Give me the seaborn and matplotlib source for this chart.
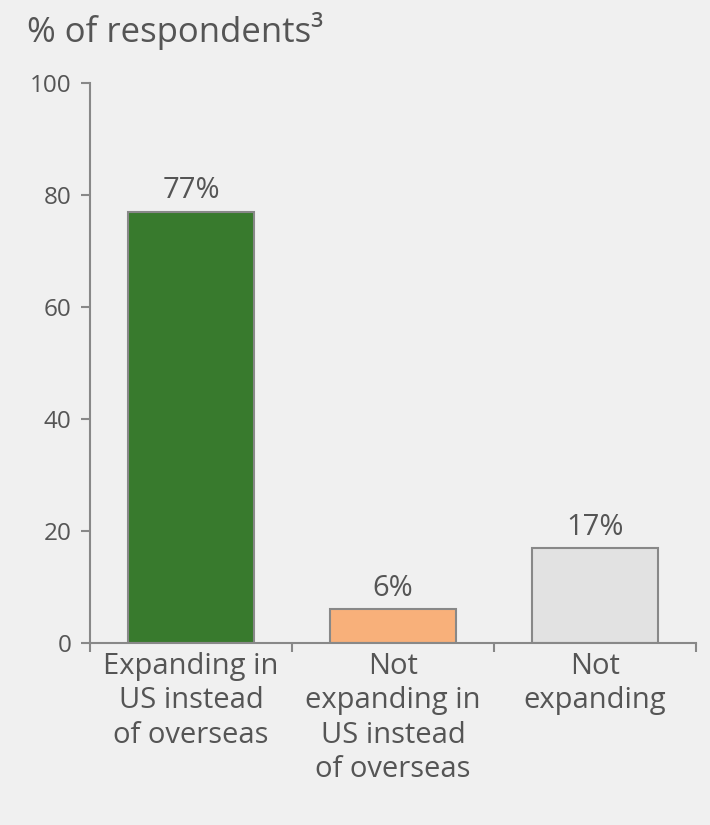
import matplotlib
matplotlib.use("Agg")
import matplotlib.pyplot as plt
import seaborn as sns
import pandas as pd

categories = ["Expanding in\nUS instead\nof overseas",
              "Not\nexpanding in\nUS instead\nof overseas",
              "Not\nexpanding"]
values = [77, 6, 17]
value_labels = ["77%", "6%", "17%"]
bar_colors = ["#387a2d", "#f8b07a", "#e2e2e2"]
y_ticks = [0, 20, 40, 60, 80, 100]
title = "% of respondents\u00b3"

BG = "#f0f0f0"
TEXT = "#555555"
LINE = "#888888"

sns.set_theme(style="white")
plt.rcParams["font.family"] = ["Open Sans", "DejaVu Sans"]

fig = plt.figure(figsize=(7.1, 8.25), dpi=100, facecolor=BG)
ax = fig.add_axes([0.1268, 0.2206, 0.8535, 0.6792])
ax.set_facecolor(BG)

df = pd.DataFrame({"cat": categories, "val": values})
sns.barplot(data=df, x="cat", y="val", hue="cat", palette=bar_colors,
            saturation=1, width=0.62, edgecolor=LINE, linewidth=1.5,
            legend=False, ax=ax)

for i, (v, lab) in enumerate(zip(values, value_labels)):
    ax.text(i, v + 1.1, lab, ha="center", va="bottom", fontsize=21,
            color=TEXT)

ax.set_xlim(-0.5, 2.5)
ax.set_ylim(0, 100)
ax.set_yticks(y_ticks)
ax.set_yticklabels([str(t) for t in y_ticks], fontsize=17.5, color=TEXT)
ax.tick_params(axis="y", direction="out", length=6.5, width=1.5,
               color=LINE, pad=7, left=True)

# category boundaries carry the x ticks; labels sit at bar centres
ax.set_xticks([-0.5, 0.5, 1.5, 2.5])
ax.set_xticklabels([])
ax.tick_params(axis="x", direction="out", length=6.5, width=1.5,
               color=LINE, bottom=True)
for i, c in enumerate(categories):
    ax.text(i, -1.6, c, ha="center", va="top", fontsize=21, color=TEXT,
            linespacing=1.24, transform=ax.transData)

for side in ["top", "right"]:
    ax.spines[side].set_visible(False)
for side in ["left", "bottom"]:
    ax.spines[side].set_color(LINE)
    ax.spines[side].set_linewidth(1.5)

ax.set_xlabel("")
ax.set_ylabel("")

fig.text(0.038, 0.963, title, ha="left", va="center", fontsize=25,
         color=TEXT)

fig.savefig("out.png", dpi=100, facecolor=BG)
